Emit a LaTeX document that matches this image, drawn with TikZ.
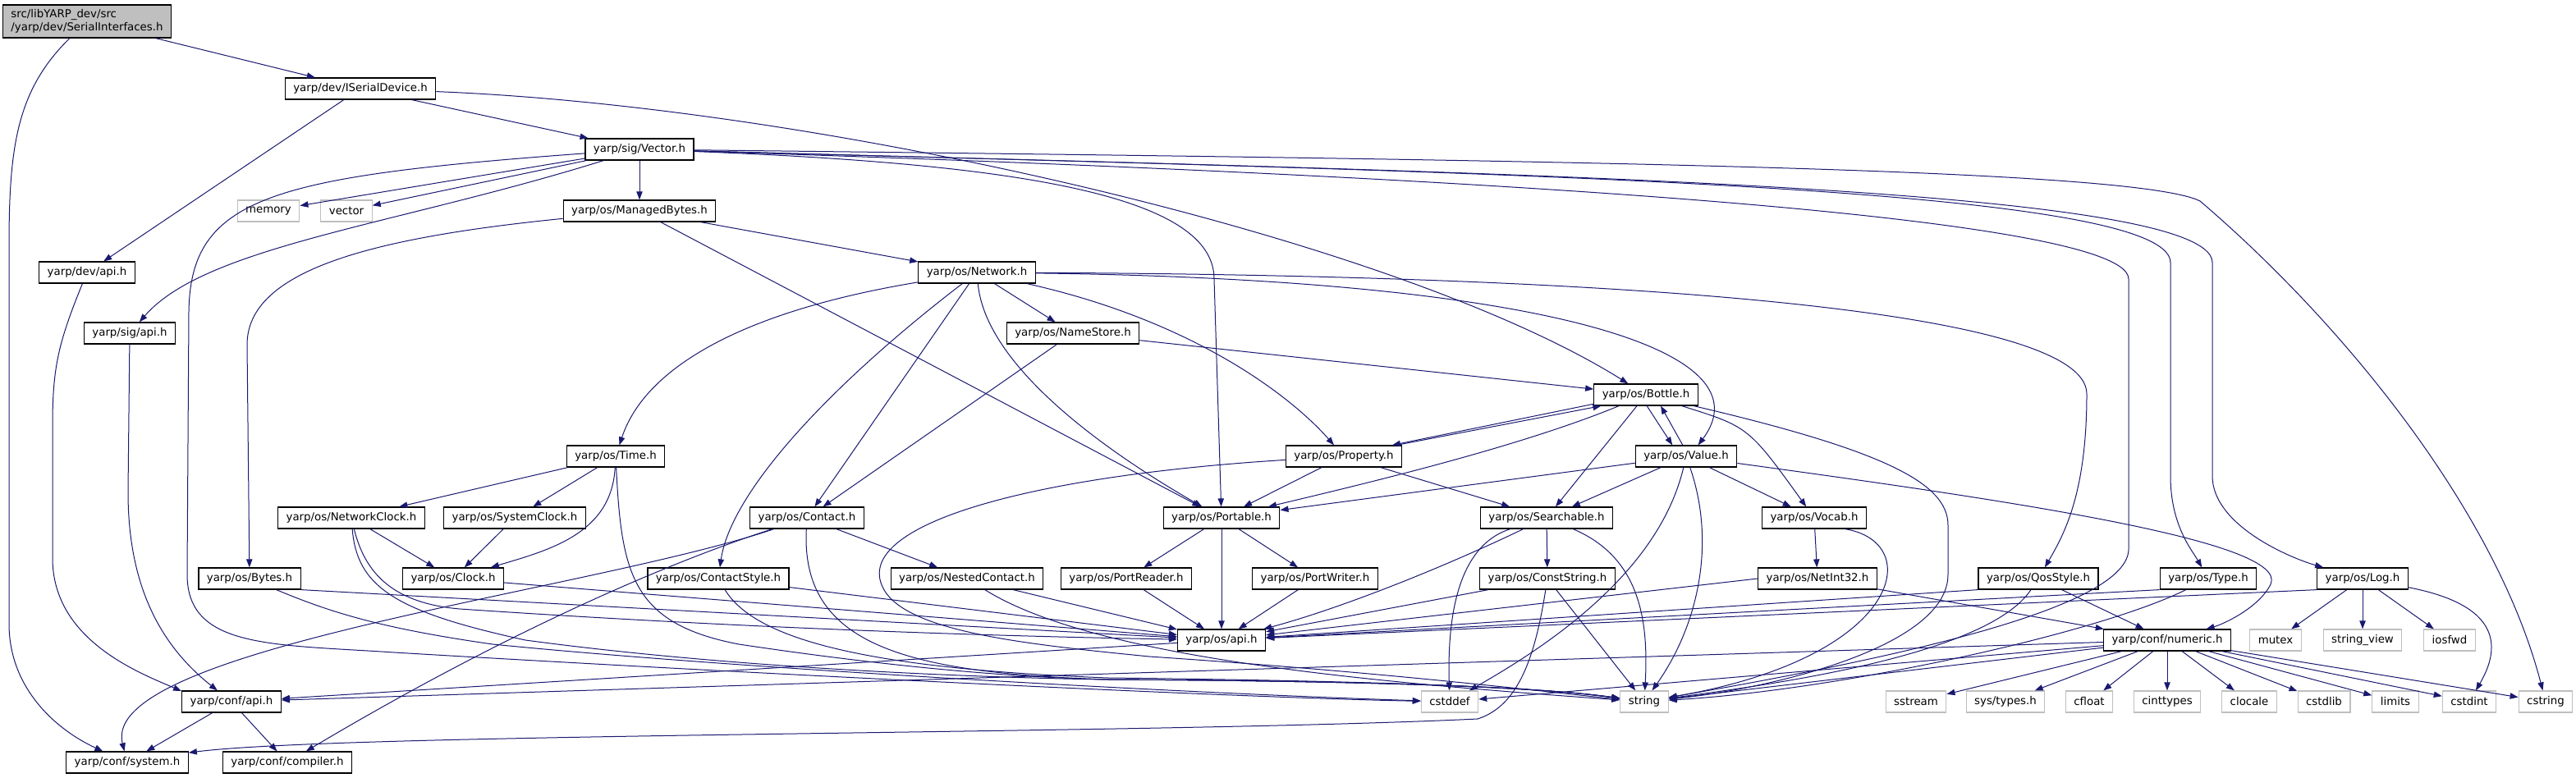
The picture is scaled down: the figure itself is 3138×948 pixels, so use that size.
\documentclass[tikz,border=0pt]{standalone}
\usepackage{fontspec}
\setmainfont{DejaVu Sans}
\usetikzlibrary{arrows.meta}
\definecolor{depblue}{HTML}{191970}
\definecolor{sysgray}{HTML}{BFBFBF}
\tikzstyle{hdr}=[draw=black, line width=0.9pt, fill=white, inner xsep=7.5pt, inner ysep=0pt, minimum height=19.5pt, font=\fontsize{10pt}{12pt}\selectfont]
\tikzstyle{sys}=[hdr, draw=sysgray]
\tikzstyle{rootfile}=[hdr, fill=sysgray, align=left, minimum height=30pt]
\tikzstyle{dep}=[depblue, line width=0.75pt, -{Triangle[length=7.5pt,width=5.5pt]}]
\newcommand{\hdr}{\node[hdr]}
\newcommand{\sys}{\node[sys]}

\begin{document}
\begin{tikzpicture}[x=0.75pt,y=-0.75pt]
\useasboundingbox (0,0) rectangle (3138,948);
\node[rootfile] (root) at (106,26) {src/libYARP\_dev/src\\/yarp/dev/SerialInterfaces.h};
\hdr (isd) at (439,108) {yarp/dev/ISerialDevice.h};
\hdr (vec) at (779,182) {yarp/sig/Vector.h};
\sys (memory) at (327,257) {memory};
\sys (vector) at (422,257) {vector};
\hdr (mbytes) at (779,257) {yarp/os/ManagedBytes.h};
\hdr (devapi) at (106,332) {yarp/dev/api.h};
\hdr (network) at (1190,332) {yarp/os/Network.h};
\hdr (sigapi) at (158,406) {yarp/sig/api.h};
\hdr (namestore) at (1307,406) {yarp/os/NameStore.h};
\hdr (bottle) at (2005,481) {yarp/os/Bottle.h};
\hdr (time) at (750,556) {yarp/os/Time.h};
\hdr (property) at (1637,556) {yarp/os/Property.h};
\hdr (value) at (2054,556) {yarp/os/Value.h};
\hdr (nclock) at (428,631) {yarp/os/NetworkClock.h};
\hdr (sclock) at (627,631) {yarp/os/SystemClock.h};
\hdr (contact) at (983,631) {yarp/os/Contact.h};
\hdr (portable) at (1488,631) {yarp/os/Portable.h};
\hdr (searchable) at (1884,631) {yarp/os/Searchable.h};
\hdr (vocab) at (2210,631) {yarp/os/Vocab.h};
\hdr (bytes) at (304,705) {yarp/os/Bytes.h};
\hdr (clock) at (552,705) {yarp/os/Clock.h};
\hdr (cstyle) at (875,705) {yarp/os/ContactStyle.h};
\hdr (nested) at (1178,705) {yarp/os/NestedContact.h};
\hdr (preader) at (1372,705) {yarp/os/PortReader.h};
\hdr (pwriter) at (1602,705) {yarp/os/PortWriter.h};
\hdr (constr) at (1885,705) {yarp/os/ConstString.h};
\hdr (netint) at (2214,705) {yarp/os/NetInt32.h};
\hdr (qos) at (2483,705) {yarp/os/QosStyle.h};
\hdr (type) at (2690,705) {yarp/os/Type.h};
\hdr (log) at (2878,705) {yarp/os/Log.h};
\hdr (osapi) at (1488,780) {yarp/os/api.h};
\hdr (numeric) at (2640,780) {yarp/conf/numeric.h};
\sys (mutex) at (2772,780) {mutex};
\sys (strview) at (2878,780) {string\_view};
\sys (iosfwd) at (2984,780) {iosfwd};
\hdr (confapi) at (282,855) {yarp/conf/api.h};
\sys (cstddef) at (1766,855) {cstddef};
\sys (string) at (2003,855) {string};
\sys (sstream) at (2334,855) {sstream};
\sys (systypes) at (2443,855) {sys/types.h};
\sys (cfloat) at (2545,855) {cfloat};
\sys (cinttypes) at (2640,855) {cinttypes};
\sys (clocale) at (2740,855) {clocale};
\sys (cstdlib) at (2831,855) {cstdlib};
\sys (limits) at (2918,855) {limits};
\sys (cstdint) at (3008,855) {cstdint};
\sys (cstr) at (3101,855) {cstring};
\hdr (system) at (155,929) {yarp/conf/system.h};
\hdr (compiler) at (350,929) {yarp/conf/compiler.h};
% straight includes
\path[dep]
    (root) edge (isd)
    (isd) edge (vec) edge (devapi)
    (vec) edge (memory) edge (vector) edge (mbytes)
    (mbytes) edge (network) edge (portable)
    (network) edge (namestore) edge (contact)
    (namestore) edge (contact) edge (bottle)
    (time) edge (nclock) edge (sclock)
    (nclock) edge (clock)
    (sclock) edge (clock)
    (contact) edge (nested)
    (portable) edge (preader) edge (pwriter) edge (osapi)
    (preader) edge (osapi)
    (pwriter) edge (osapi)
    (bottle) edge (searchable)
    (property) edge (portable) edge (searchable)
    (value) edge (portable) edge (searchable) edge (vocab)
    (searchable) edge (constr)
    (vocab) edge (netint)
    (constr) edge (osapi) edge (string)
    (netint.west) edge (osapi) 
    (netint) edge (numeric)
    (qos.south west) edge (osapi)
    (qos) edge (numeric)
    (type.south west) edge (osapi)
    (log.south west) edge (osapi)
    (log) edge (mutex) edge (strview) edge (iosfwd)
    (numeric) edge (confapi) edge (cstddef) edge (string) edge (sstream) edge (systypes) edge (cfloat)
        edge (cinttypes) edge (clocale) edge (cstdlib) edge (limits) edge (cstdint) edge (cstr)
    (osapi) edge (confapi)
    (confapi) edge (system) edge (compiler)
    (clock) edge (osapi)
    (bytes.south east) edge (osapi)
    (cstyle) edge (osapi)
    (nested) edge (osapi)
;
% curved includes
\draw[dep] (root) .. controls (20,110) and (11,180) .. (11,300) -- (11,760) .. controls (11,840) and (70,890) .. (system);
\draw[dep] (isd) .. controls (1000,130) and (1700,290) .. (bottle);
\draw[dep] (vec) .. controls (480,275) and (250,300) .. (sigapi);
\draw[dep] (vec) .. controls (330,215) and (232,240) .. (230,380) -- (228,700) .. controls (228,790) and (330,785) .. (480,795) .. controls (900,820) and (1500,850) .. (cstddef);
\draw[dep] (vec) .. controls (1250,200) and (1479,240) .. (1479,340) -- (portable);
\draw[dep] (vec) .. controls (1500,205) and (2593,250) .. (2593,340) -- (2593,670) .. controls (2590,740) and (2320,800) .. (string);
\draw[dep] (vec) .. controls (1800,210) and (2644,225) .. (2644,320) -- (2644,580) .. controls (2644,640) and (2670,670) .. (type);
\draw[dep] (vec) .. controls (1800,210) and (2695,225) .. (2695,320) -- (2695,580) .. controls (2695,640) and (2790,680) .. (log);
\draw[dep] (vec) .. controls (1900,195) and (2600,205) .. (2680,245) .. controls (2850,390) and (3040,620) .. (cstr);
\draw[dep] (mbytes) .. controls (450,290) and (301,330) .. (301,420) -- (bytes);
\draw[dep] (network) .. controls (900,380) and (785,450) .. (time);
\draw[dep] (network) .. controls (1010,470) and (890,600) .. (cstyle);
\draw[dep] (network) .. controls (1200,440) and (1330,540) .. (portable);
\draw[dep] (network) .. controls (1450,390) and (1570,480) .. (property);
\draw[dep] (network) .. controls (1900,335) and (2542,370) .. (2542,480) .. controls (2542,600) and (2515,650) .. (qos);
\draw[dep] (network) .. controls (1850,340) and (2160,420) .. (value.43);
\draw[dep] (bottle) .. controls (1850,545) and (1660,590) .. (portable);
\draw[dep] (bottle.-170) -- (property.13);
\draw[dep] (property.12) -- (bottle.-166);
\draw[dep] (bottle.-85) -- (value.141);
\draw[dep] (value.107) -- (bottle.-37);
\draw[dep] (bottle) .. controls (2130,520) .. (vocab);
\draw[dep] (bottle) .. controls (2300,550) and (2373,590) .. (2373,640) -- (2373,700) .. controls (2373,790) and (2150,840) .. (string);
\draw[dep] (value) .. controls (2020,700) and (1880,790) .. (cstddef);
\draw[dep] (value) .. controls (2090,660) and (2070,760) .. (string);
\draw[dep] (value) .. controls (2450,610) and (2790,660) .. (2766,712) .. controls (2752,740) and (2710,760) .. (numeric);
\draw[dep] (property) .. controls (1250,580) and (1040,640) .. (1075,715) .. controls (1100,770) and (1250,785) .. (1400,800) .. controls (1700,820) and (1900,845) .. (string);
\draw[dep] (searchable) .. controls (1740,700) and (1620,745) .. (osapi);
\draw[dep] (searchable) .. controls (1790,660) and (1762,720) .. (cstddef);
\draw[dep] (searchable) .. controls (2000,680) and (2008,760) .. (string);
\draw[dep] (constr) .. controls (1870,800) and (1850,860) .. (1800,876) .. controls (1400,895) and (420,893) .. (system.9);
\draw[dep] (vocab.-20) .. controls (2345,660) and (2320,800) .. (string);
\draw[dep] (qos) .. controls (2420,800) and (2150,835) .. (string);
\draw[dep] (type) .. controls (2560,770) and (2250,840) .. (string);
\draw[dep] (log) .. controls (3060,740) and (3040,800) .. (cstdint);
\draw[dep] (devapi) .. controls (70,420) and (64,450) .. (64,520) -- (64,680) .. controls (64,780) and (170,820) .. (confapi.168);
\draw[dep] (sigapi) -- (156,600) .. controls (156,720) and (200,790) .. (confapi);
\draw[dep] (contact) .. controls (720,720) and (120,790) .. (system);
\draw[dep] (contact) .. controls (800,690) and (600,780) .. (compiler);
\draw[dep] (contact) .. controls (975,785) and (1100,820) .. (1350,828) .. controls (1700,830) and (1880,838) .. (string);
\draw[dep] (cstyle) .. controls (920,780) and (1060,815) .. (1350,826) .. controls (1700,830) and (1880,838) .. (string);
\draw[dep] (nested) .. controls (1330,800) and (1650,830) .. (string);
\draw[dep] (bytes) .. controls (400,745) and (460,765) .. (600,785) .. controls (900,815) and (1450,845) .. (cstddef);
\draw[dep] (nclock) .. controls (435,715) and (480,745) .. (640,780) .. controls (900,815) and (1200,826) .. (1350,828) .. controls (1700,830) and (1880,838) .. (string);
\draw[dep] (nclock) .. controls (445,700) and (480,735) .. (560,742) .. controls (900,765) and (1200,775) .. (osapi);
\draw[dep] (time) .. controls (757,700) and (770,760) .. (900,785) .. controls (1100,815) and (1250,826) .. (1350,828) .. controls (1700,830) and (1880,838) .. (string);
\draw[dep] (time) .. controls (745,650) and (670,670) .. (clock);
\end{tikzpicture}
\end{document}
